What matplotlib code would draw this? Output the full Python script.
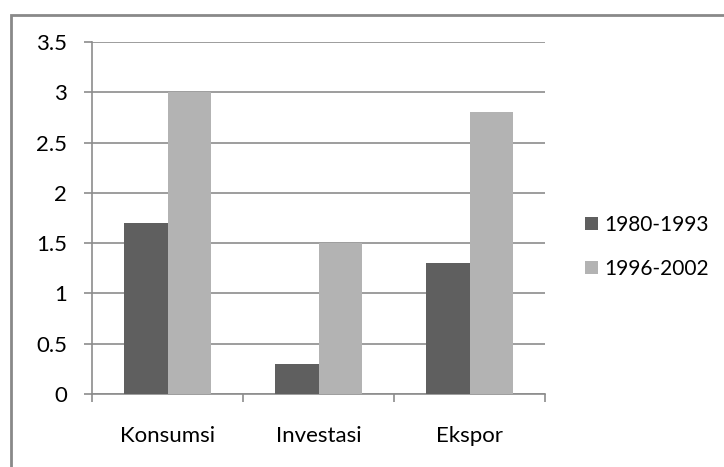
import matplotlib
matplotlib.use("Agg")
import matplotlib.pyplot as plt
from matplotlib.patches import Rectangle
import numpy as np

categories = ["Konsumsi", "Investasi", "Ekspor"]
series_names = ["1980-1993", "1996-2002"]
values_1980_1993 = [1.7, 0.3, 1.3]
values_1996_2002 = [3.0, 1.5, 2.8]
yticks = [0, 0.5, 1, 1.5, 2, 2.5, 3, 3.5]
ytick_labels = ["0", "0.5", "1", "1.5", "2", "2.5", "3", "3.5"]

plt.rcParams['font.family'] = ['Lato', 'DejaVu Sans']
W, H = 724, 467
fig = plt.figure(figsize=(W / 100, H / 100), dpi=100)
fig.patch.set_facecolor("white")

# outer chart border (cut off at right and bottom)
fig.patches.append(Rectangle((10.5 / W, -0.2), 1.0, 1.2 - 14.5 / H,
                             transform=fig.transFigure, fill=False,
                             edgecolor="#898989", linewidth=2.0))

ax = fig.add_axes([92 / W, 1 - 394 / H, (545 - 92) / W, (394 - 42) / H])
x = np.arange(len(categories))
w = 1 / 3.5
dark = "#5f5f5f"
light = "#b3b3b3"
ax.bar(x - w / 2, values_1980_1993, width=w, color=dark, label=series_names[0], zorder=3)
ax.bar(x + w / 2, values_1996_2002, width=w, color=light, label=series_names[1], zorder=3)

ax.set_xlim(-0.5, 2.5)
ax.set_ylim(0, 3.5)
ax.set_yticks(yticks)
ax.set_yticklabels(ytick_labels, fontsize=16)
ax.yaxis.grid(True, color="#8c8c8c", linewidth=1.2, zorder=0)
ax.set_axisbelow(True)

ax.set_xticks(x)
ax.set_xticklabels(categories, fontsize=16)
ax.tick_params(axis="x", length=0, pad=23)
ax.set_xticks([-0.5, 0.5, 1.5, 2.5], minor=True)
ax.tick_params(axis="x", which="minor", length=6, color="#8c8c8c", width=1.2)
ax.tick_params(axis="y", length=6, color="#8c8c8c", width=1.2, pad=12)

for s in ["top", "right"]:
    ax.spines[s].set_visible(False)
for s in ["left", "bottom"]:
    ax.spines[s].set_color("#8c8c8c")
    ax.spines[s].set_linewidth(1.2)

leg = fig.legend(loc="upper left", bbox_to_anchor=(585 / W, 1 - 215 / H),
                 frameon=False, fontsize=15, borderpad=0, borderaxespad=0,
                 handlelength=0.6, handleheight=0.6,
                 handletextpad=0.34, labelspacing=1.15)

fig.savefig("out.png", dpi=100, facecolor="white")
